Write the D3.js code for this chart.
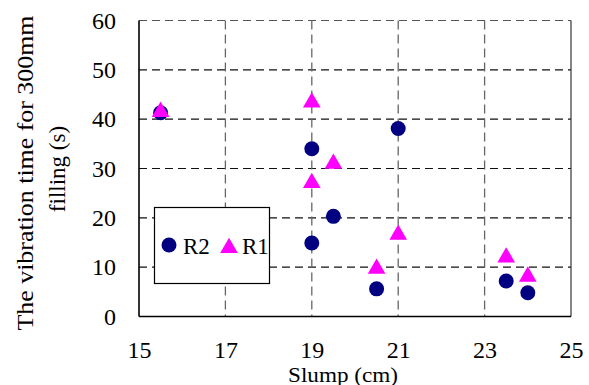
<!DOCTYPE html>
<html>
<head>
<meta charset="utf-8">
<script src="https://cdn.jsdelivr.net/npm/d3@7"></script>
<style>
  body { margin: 0; background: #fff; }
  text { font-family: "Liberation Serif", "Times New Roman", serif; fill: #000; }
</style>
</head>
<body>
<div id="chart"></div>
<script>
// slump (cm) vs vibration time (s)
const r2Slump = [15.5, 19, 19, 19.5, 20.5, 21, 23.5, 24];
const r2Time  = [41.3, 34.0, 14.9, 20.3, 5.6, 38.1, 7.2, 4.8];
const r1Slump = [15.5, 19, 19, 19.5, 20.5, 21, 23.5, 24];
const r1Time  = [41.8, 43.7, 27.4, 31.3, 10.0, 16.9, 12.3, 8.4];
const xTicks = [15, 17, 19, 21, 23, 25];
const yTicks = [0, 10, 20, 30, 40, 50, 60];
const seriesNames = ["R2", "R1"];

const width = 589, height = 385;
const mLeft = 139, mRight = 571, mTop = 20.5, mBottom = 316.5;

const svg = d3.select("#chart").append("svg")
  .attr("width", width)
  .attr("height", height);

const scaleX = d3.scaleLinear().domain([15, 25]).range([mLeft, mRight]);
const scaleY = d3.scaleLinear().domain([0, 60]).range([mBottom, mTop]);

// grid
svg.append("g")
  .selectAll("line")
  .data(yTicks.filter(d => d > 0))
  .join("line")
  .attr("x1", mLeft).attr("x2", mRight)
  .attr("y1", d => scaleY(d)).attr("y2", d => scaleY(d))
  .style("stroke", d => d == 60 ? "#555" : "#111")
  .style("stroke-width", "1.2px")
  .style("stroke-dasharray", "8,5");

svg.append("g")
  .selectAll("line")
  .data(xTicks.filter(d => d > 15 && d < 25))
  .join("line")
  .attr("x1", d => scaleX(d)).attr("x2", d => scaleX(d))
  .attr("y1", mTop).attr("y2", mBottom)
  .style("stroke", "#666")
  .style("stroke-width", "1.3px")
  .style("stroke-dasharray", "9,5");

// right border
svg.append("line")
  .attr("x1", mRight).attr("x2", mRight)
  .attr("y1", mTop).attr("y2", mBottom)
  .style("stroke", "#333")
  .style("stroke-width", "1.2px");

// axes (no tick marks)
const yAxis = d3.axisLeft(scaleY).tickValues(yTicks).tickSize(0).tickPadding(23);
const ya = svg.append("g").attr("transform", `translate(${mLeft},0)`).call(yAxis);
const xAxis = d3.axisBottom(scaleX).tickValues(xTicks).tickSize(0).tickPadding(24);
const xa = svg.append("g").attr("transform", `translate(0,${mBottom})`).call(xAxis);

[ya, xa].forEach(a => {
  a.select(".domain").style("stroke", "#000").style("stroke-width", "1.6px");
  a.selectAll("text").style("font-size", "24px")
    .style("font-family", '"Liberation Serif", serif');
});
xa.select(".domain").attr("d", `M${mLeft},0H${mRight}`);
ya.select(".domain").attr("d", `M0,${mBottom}V${mTop}`);

// points
const r2 = r2Slump.map((s, i) => ({ x: s, y: r2Time[i] }));
const r1 = r1Slump.map((s, i) => ({ x: s, y: r1Time[i] }));

const tri = d3.symbol().type(d3.symbolTriangle).size(135);

svg.append("g")
  .selectAll("circle")
  .data(r2)
  .join("circle")
  .attr("cx", d => scaleX(d.x))
  .attr("cy", d => scaleY(d.y))
  .attr("r", 7.5)
  .style("fill", "#000080");

svg.append("g")
  .selectAll("path")
  .data(r1)
  .join("path")
  .attr("d", tri)
  .attr("transform", d => `translate(${scaleX(d.x)},${scaleY(d.y) + 1.5})`)
  .style("fill", "#ff00ff");

// legend
const lg = svg.append("g");
lg.append("rect")
  .attr("x", 154.5).attr("y", 207.5)
  .attr("width", 115).attr("height", 76)
  .style("fill", "#fff")
  .style("stroke", "#000")
  .style("stroke-width", "1.2px");
lg.append("circle")
  .attr("cx", 169).attr("cy", 245).attr("r", 7.5)
  .style("fill", "#000080");
lg.append("text").attr("x", 183).attr("y", 253.5)
  .style("font-size", "23px").text(seriesNames[0]);
lg.append("path")
  .attr("d", tri)
  .attr("transform", "translate(229,248)")
  .style("fill", "#ff00ff");
lg.append("text").attr("x", 242).attr("y", 253.5)
  .style("font-size", "23px").text(seriesNames[1]);

// titles
svg.append("text")
  .attr("x", 343).attr("y", 381.5)
  .attr("text-anchor", "middle")
  .attr("textLength", 110)
  .attr("lengthAdjust", "spacingAndGlyphs")
  .style("font-size", "22px")
  .text("Slump (cm)");

svg.append("text")
  .attr("transform", "translate(33,173) rotate(-90)")
  .attr("text-anchor", "middle")
  .attr("textLength", 315)
  .attr("lengthAdjust", "spacingAndGlyphs")
  .style("font-size", "23px")
  .text("The vibration time for 300mm");

svg.append("text")
  .attr("transform", "translate(65,169) rotate(-90)")
  .attr("text-anchor", "middle")
  .style("font-size", "23px")
  .text("filling (s)");
</script>
</body>
</html>
